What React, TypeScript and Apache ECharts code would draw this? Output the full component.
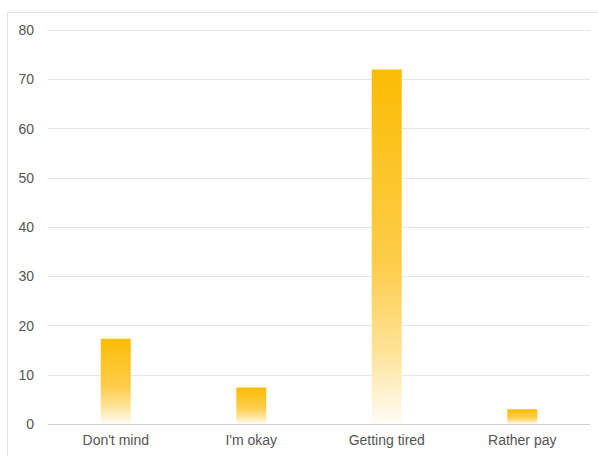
import React, { useEffect, useRef } from "react";
import * as echarts from "echarts";

const categories = ["Don't mind", "I'm okay", "Getting tired", "Rather pay"];
const values = [17.3, 7.4, 72, 3];
const yTicks = { min: 0, max: 80, interval: 10 };

export default function App() {
  const ref = useRef<HTMLDivElement>(null);
  useEffect(() => {
    if (!ref.current) return;
    const chart = echarts.init(ref.current, undefined, { renderer: "svg" });
    chart.setOption({
      animation: false,
      backgroundColor: "#ffffff",
      graphic: [
        {
          type: "rect",
          shape: { x: 7.5, y: 12.5, width: 600, height: 470 },
          style: { fill: "none", stroke: "#e2e2e2", lineWidth: 1 },
          silent: true,
        },
      ],
      grid: { left: 48, right: 8, top: 30, bottom: 32 },
      xAxis: {
        type: "category",
        data: categories,
        axisTick: { show: false },
        axisLine: { show: true, lineStyle: { color: "#d0d0d0", width: 1 } },
        axisLabel: {
          color: "#555",
          fontSize: 14,
          fontFamily: "Liberation Sans, Arial, sans-serif",
          margin: 9,
        },
      },
      yAxis: {
        type: "value",
        min: yTicks.min,
        max: yTicks.max,
        interval: yTicks.interval,
        axisLine: { show: false },
        axisTick: { show: false },
        splitLine: { lineStyle: { color: "#e6e6e6", width: 1 } },
        axisLabel: {
          color: "#555",
          fontSize: 14,
          fontFamily: "Liberation Sans, Arial, sans-serif",
          margin: 14,
        },
      },
      series: [
        {
          type: "bar",
          data: values,
          barWidth: 30,
          itemStyle: {
            color: new echarts.graphic.LinearGradient(0, 0, 0, 1, [
              { offset: 0, color: "#fbbc05" },
              { offset: 0.55, color: "#fdcd4a" },
              { offset: 0.8, color: "#fee39a" },
              { offset: 1, color: "#fffdf8" },
            ]),
          },
        },
      ],
    });
    return () => chart.dispose();
  }, []);
  return (
    <div
      ref={ref}
      style={{ position: "absolute", left: 0, top: 0, width: 598, height: 456 }}
    />
  );
}
